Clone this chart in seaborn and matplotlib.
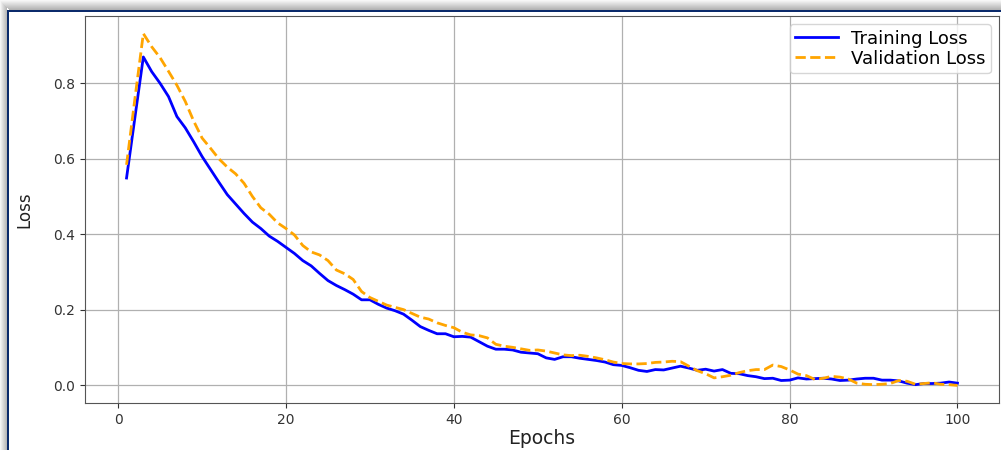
import matplotlib
matplotlib.use("Agg")
import matplotlib.pyplot as plt
import matplotlib.patches as mpatches
import numpy as np
import pandas as pd
import seaborn as sns

epochs = list(range(1, 101))

training_loss = [
    0.549, 0.710, 0.870, 0.831, 0.800, 0.765, 0.712, 0.682, 0.645, 0.606,
    0.572, 0.538, 0.505, 0.480, 0.455, 0.432, 0.415, 0.395, 0.381, 0.365,
    0.349, 0.330, 0.316, 0.296, 0.277, 0.264, 0.253, 0.241, 0.226, 0.226,
    0.214, 0.204, 0.197, 0.188, 0.172, 0.155, 0.145, 0.136, 0.136, 0.128,
    0.129, 0.127, 0.115, 0.103, 0.095, 0.095, 0.093, 0.087, 0.085, 0.083,
    0.072, 0.068, 0.075, 0.075, 0.071, 0.068, 0.065, 0.061, 0.054, 0.052,
    0.046, 0.039, 0.036, 0.041, 0.040, 0.045, 0.050, 0.045, 0.039, 0.042,
    0.037, 0.041, 0.031, 0.030, 0.025, 0.022, 0.017, 0.018, 0.012, 0.013,
    0.019, 0.016, 0.017, 0.018, 0.016, 0.012, 0.013, 0.016, 0.018, 0.018,
    0.013, 0.013, 0.011, 0.005, 0.001, 0.004, 0.004, 0.005, 0.008, 0.005,
]

validation_loss = [
    0.584, 0.760, 0.932, 0.897, 0.868, 0.832, 0.795, 0.752, 0.700, 0.655,
    0.628, 0.600, 0.578, 0.560, 0.535, 0.500, 0.470, 0.453, 0.430, 0.415,
    0.398, 0.370, 0.353, 0.345, 0.330, 0.305, 0.295, 0.280, 0.248, 0.232,
    0.222, 0.212, 0.206, 0.200, 0.190, 0.180, 0.175, 0.165, 0.158, 0.152,
    0.140, 0.133, 0.131, 0.125, 0.108, 0.103, 0.100, 0.096, 0.092, 0.093,
    0.090, 0.085, 0.080, 0.078, 0.079, 0.076, 0.072, 0.067, 0.061, 0.057,
    0.056, 0.056, 0.057, 0.060, 0.061, 0.063, 0.062, 0.050, 0.038, 0.030,
    0.019, 0.022, 0.026, 0.033, 0.038, 0.041, 0.041, 0.053, 0.049, 0.040,
    0.029, 0.025, 0.015, 0.018, 0.023, 0.021, 0.016, 0.005, 0.002, 0.001,
    0.002, 0.004, 0.012, 0.010, 0.002, 0.004, 0.006, 0.002, 0.001, -0.001,
]

series_names = ["Training Loss", "Validation Loss"]
series_colors = ["blue", "orange"]
x_ticks = [0, 20, 40, 60, 80, 100]
y_ticks = [0.0, 0.2, 0.4, 0.6, 0.8]

plt.rcdefaults()
plt.rcParams["font.family"] = ["DejaVu Sans"]

W, H = 1001, 450
fig = plt.figure(figsize=(W / 100, H / 100), dpi=100)
fig.patch.set_facecolor("white")

# screenshot-style frame: gray shadow and navy border (figure pixel coords)
def px_rect(x0, y0, x1, y1, color, alpha=1.0):
    r = mpatches.Rectangle((x0 / W, 1 - y1 / H), (x1 - x0) / W, (y1 - y0) / H,
                           transform=fig.transFigure, facecolor=color,
                           edgecolor="none", alpha=alpha, zorder=0)
    fig.add_artist(r)

for i in range(7):
    g = 0.96 - 0.04 * i
    px_rect(i, 0, i + 1, H, (g, g, g))
for i in range(10):
    g = 0.97 - 0.03 * i
    px_rect(i, i, W, i + 1, (g, g, g))
px_rect(7, 10, 9, H, "#0b2a6b")
px_rect(7, 10, W, 12, "#0b2a6b")

ax = fig.add_axes([85 / W, 1 - 403 / H, (999 - 85) / W, (403 - 16) / H])

df = pd.DataFrame({
    "Epoch": epochs * 2,
    "Loss": training_loss + validation_loss,
    "Series": [series_names[0]] * len(epochs) + [series_names[1]] * len(epochs),
})

sns.lineplot(data=df[df["Series"] == series_names[0]], x="Epoch", y="Loss",
             color=series_colors[0], linewidth=2, ax=ax, label=series_names[0])
sns.lineplot(data=df[df["Series"] == series_names[1]], x="Epoch", y="Loss",
             color=series_colors[1], linewidth=2, linestyle="--", ax=ax,
             label=series_names[1])

ax.set_xticks(x_ticks)
ax.set_yticks(y_ticks)
ax.tick_params(labelsize=10, colors="#333333")
ax.grid(True, color="#b0b0b0", linewidth=0.9)
for s in ax.spines.values():
    s.set_color("#555555")
ax.set_xlabel("Epochs", fontsize=13.5, color="#222222", labelpad=2)
ax.set_ylabel("Loss", fontsize=12, color="#222222", labelpad=14)
ax.legend(loc="upper right", fontsize=13, handlelength=2.4,
          labelspacing=0.12, borderpad=0.3, borderaxespad=0.45,
          handletextpad=0.7)

fig.savefig("out.png", dpi=100)
